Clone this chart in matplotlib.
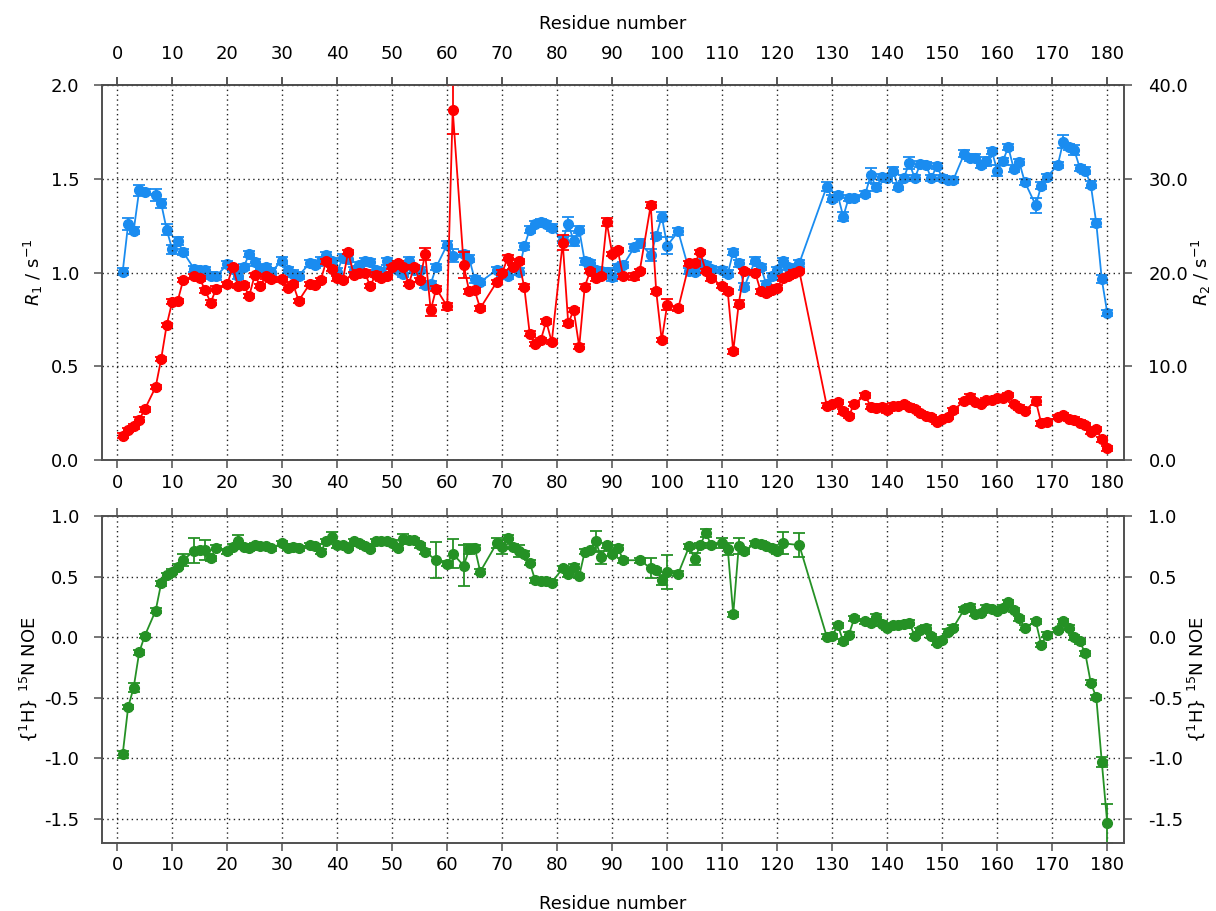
import numpy as np
import matplotlib
matplotlib.use("Agg")
import matplotlib.pyplot as plt
from matplotlib.ticker import FormatStrFormatter

plt.rcParams['font.family'] = ['DejaVu Sans']
plt.rcParams['axes.unicode_minus'] = False

# ---------------- data ----------------
r1_res = [1, 2, 3, 4, 5, 7, 8, 9, 10, 11, 12, 14, 15, 16, 17, 18, 20, 21, 22, 23, 24, 25, 26, 27, 28,
          30, 31, 32, 33, 35, 36, 37, 38, 39, 40, 41, 42, 43, 44, 45, 46, 47, 48, 49, 50, 51, 52, 53,
          54, 55, 56, 57, 58, 60, 61, 63, 64, 65, 66, 69, 70, 71, 72, 73, 74, 75, 76, 77, 78, 79, 81,
          82, 83, 84, 85, 86, 87, 88, 89, 90, 91, 92, 94, 95, 97, 98, 99, 100, 102, 104, 105, 106, 107,
          108, 110, 111, 112, 113, 114, 116, 117, 118, 119, 120, 121, 122, 123, 124,
          129, 130, 131, 132, 133, 134, 136, 137, 138, 139, 140, 141, 142, 143, 144, 145, 146, 147,
          148, 149, 150, 151, 152, 154, 155, 156, 157, 158, 159, 160, 161, 162, 163, 164, 165, 167,
          168, 169, 171, 172, 173, 174, 175, 176, 177, 178, 179, 180]
r1_val = [0.13, 0.16, 0.18, 0.215, 0.27, 0.39, 0.54, 0.72, 0.845, 0.85, 0.96, 0.98, 0.97, 0.905, 0.84,
          0.915, 0.937, 1.03, 0.93, 0.935, 0.875, 0.987, 0.93, 0.98, 0.965,
          0.965, 0.92, 0.937, 0.85, 0.94, 0.935, 0.96, 1.06, 1.02, 0.97, 0.96, 1.11, 0.99, 1.0, 1.0,
          0.93, 0.99, 0.97, 0.98, 1.03, 1.05, 1.03, 0.94,
          1.03, 0.96, 1.1, 0.80, 0.915, 0.82, 1.87, 1.04, 0.90, 0.905, 0.81, 0.95, 1.0, 1.08, 1.03,
          1.06, 0.925, 0.675, 0.62, 0.64, 0.74, 0.63, 1.16,
          0.73, 0.80, 0.605, 0.925, 1.01, 0.97, 0.98, 1.27, 1.10, 1.12, 0.98, 0.98, 1.01, 1.36, 0.90,
          0.64, 0.83, 0.81, 1.05, 1.05, 1.11, 1.01,
          0.97, 0.93, 0.90, 0.58, 0.835, 1.01, 1.0, 0.90, 0.89, 0.91, 0.92, 0.97, 0.98, 1.0, 1.01,
          0.29, 0.30, 0.31, 0.26, 0.235, 0.30, 0.345, 0.285, 0.28, 0.285, 0.265, 0.29, 0.29, 0.30,
          0.285, 0.27, 0.25, 0.235,
          0.23, 0.205, 0.22, 0.23, 0.265, 0.316, 0.338, 0.31, 0.30, 0.32, 0.32, 0.33, 0.33, 0.347,
          0.30, 0.28, 0.263, 0.316,
          0.196, 0.205, 0.23, 0.24, 0.22, 0.215, 0.20, 0.187, 0.15, 0.165, 0.11, 0.062]
r1_err_default = 0.012
r1_err_big = {56: 0.03, 57: 0.03, 60: 0.02, 61: 0.13, 63: 0.07, 81: 0.04, 89: 0.02, 94: 0.02,
              97: 0.015, 100: 0.03, 113: 0.02, 167: 0.02}

r2_res = list(r1_res)
r2_val = [20.1, 25.2, 24.5, 28.8, 28.6, 28.3, 27.4, 24.6, 22.5, 23.4, 22.2, 20.4, 20.3, 20.3, 19.7,
          19.6, 20.9, 20.4, 19.7, 20.6, 22.0, 21.1, 20.4, 20.6, 20.1,
          21.3, 20.3, 19.9, 19.7, 21.0, 20.8, 21.3, 21.9, 21.2, 20.1, 21.6, 21.5, 20.3, 20.8, 21.2,
          21.1, 20.3, 20.1, 21.2, 20.8, 20.3, 19.9, 21.3,
          20.3, 20.3, 18.7, 18.8, 20.6, 23.0, 21.8, 22.0, 21.5, 19.3, 19.0, 20.3, 19.9, 19.7, 20.6,
          20.1, 22.8, 24.6, 25.2, 25.4, 25.2, 24.8, 23.5,
          25.2, 23.4, 24.6, 21.2, 21.0, 20.3, 20.2, 20.1, 19.5, 20.6, 20.8, 22.7, 23.2, 21.9, 23.9,
          26.0, 22.9, 24.4, 20.2, 20.1, 21.0, 20.8,
          20.4, 20.3, 19.9, 22.2, 21.0, 18.5, 21.3, 20.6, 18.8, 19.6, 20.3, 21.2, 20.6, 20.4, 21.0,
          29.2, 27.9, 28.3, 26.0, 28.0, 28.0, 28.4, 30.4, 29.1, 30.2, 30.1, 30.9, 29.2, 30.1, 31.7,
          30.1, 31.6, 31.5,
          30.1, 31.4, 30.1, 29.9, 29.9, 32.7, 32.3, 32.3, 31.5, 31.9, 33.0, 30.9, 31.9, 33.4, 31.1,
          31.8, 29.7, 27.2,
          29.3, 30.2, 31.5, 34.0, 33.4, 33.1, 31.2, 30.9, 29.4, 25.3, 19.3, 15.7]
r2_err_default = 0.35
r2_err_big = {2: 0.6, 4: 0.6, 7: 0.6, 8: 0.45, 9: 0.55, 10: 0.45, 11: 0.4, 61: 0.7, 82: 0.7,
              83: 0.5, 97: 0.6, 99: 0.5, 100: 0.9, 129: 0.45, 132: 0.45, 137: 0.8, 144: 0.65,
              158: 0.5, 160: 0.55, 167: 0.8, 172: 0.7, 174: 0.5, 178: 0.45, 179: 0.45}

noe_res = [1, 2, 3, 4, 5, 7, 8, 9, 10, 11, 12, 14, 15, 16, 17, 18, 20, 21, 22, 23, 24, 25, 26, 27, 28,
           30, 31, 32, 33, 35, 36, 37, 38, 39, 40, 41, 42, 43, 44, 45, 46, 47, 48, 49, 50, 51, 52, 53,
           54, 55, 56, 58, 60, 61, 63, 64, 65, 66, 69, 70, 71, 72, 73, 74, 75, 76, 77, 78, 79, 81,
           82, 83, 84, 85, 86, 87, 88, 89, 90, 91, 92, 95, 97, 98, 99, 100, 102, 104, 105, 106, 107,
           108, 110, 111, 112, 113, 114, 116, 117, 118, 119, 120, 121, 124,
           129, 130, 131, 132, 133, 134, 136, 137, 138, 139, 140, 141, 142, 143, 144, 145, 146, 147,
           148, 149, 150, 151, 152, 154, 155, 156, 157, 158, 159, 160, 161, 162, 163, 164, 165, 167,
           168, 169, 171, 172, 173, 174, 175, 176, 177, 178, 179, 180]
noe_val = [-0.965, -0.575, -0.415, -0.125, 0.01, 0.22, 0.445, 0.51, 0.54, 0.58, 0.635, 0.715, 0.72,
           0.72, 0.65, 0.74, 0.71, 0.745, 0.79, 0.745, 0.735, 0.76, 0.75, 0.75, 0.735,
           0.775, 0.74, 0.745, 0.735, 0.76, 0.75, 0.705, 0.79, 0.83, 0.76, 0.76, 0.74, 0.79, 0.775,
           0.75, 0.73, 0.79, 0.79, 0.79, 0.78, 0.74, 0.81, 0.80,
           0.80, 0.76, 0.705, 0.635, 0.605, 0.69, 0.59, 0.725, 0.74, 0.54, 0.775, 0.745, 0.82, 0.745,
           0.71, 0.69, 0.615, 0.47, 0.46, 0.46, 0.45, 0.57,
           0.52, 0.58, 0.505, 0.705, 0.72, 0.79, 0.66, 0.76, 0.69, 0.74, 0.635, 0.635, 0.57, 0.555,
           0.47, 0.54, 0.525, 0.75, 0.645, 0.76, 0.86,
           0.76, 0.775, 0.73, 0.19, 0.75, 0.71, 0.775, 0.77, 0.75, 0.74, 0.71, 0.775, 0.76,
           0.005, 0.01, 0.10, -0.035, 0.02, 0.155, 0.13, 0.115, 0.17, 0.11, 0.08, 0.10, 0.10, 0.11,
           0.12, 0.01, 0.06, 0.08,
           0.01, -0.045, -0.02, 0.045, 0.08, 0.23, 0.25, 0.195, 0.20, 0.245, 0.23, 0.22, 0.245, 0.29,
           0.225, 0.155, 0.08, 0.13,
           -0.064, 0.02, 0.06, 0.13, 0.08, 0.0, -0.035, -0.133, -0.375, -0.496, -1.027, -1.536]
noe_err_default = 0.02
noe_err_big = {1: 0.03, 3: 0.04, 12: 0.05, 14: 0.1, 16: 0.08, 22: 0.055, 39: 0.04, 52: 0.04,
               58: 0.15, 61: 0.12, 63: 0.17, 64: 0.04, 69: 0.04, 70: 0.055, 73: 0.05, 87: 0.09,
               88: 0.055, 97: 0.08, 99: 0.04, 100: 0.14, 105: 0.05, 107: 0.035, 110: 0.04,
               111: 0.05, 113: 0.065, 121: 0.09, 124: 0.1, 179: 0.04, 180: 0.16}

xticks = list(range(0, 181, 10))
r1_ticks = [0.0, 0.5, 1.0, 1.5, 2.0]
r2_ticks = [0, 10, 20, 30, 40]
noe_ticks = [-1.5, -1.0, -0.5, 0.0, 0.5, 1.0]

# ---------------- style ----------------
RED = '#ff0000'
BLUE = '#1a8cf0'
GREEN = '#259125'
FRAME = '#505050'
FS = 13

def errs(res, default, big):
    return [big.get(r, default) for r in res]

W, H = 1216, 911
fig = plt.figure(figsize=(W / 100, H / 100), dpi=100)

left = 101.5 / W
width = (1123.5 - 101.5) / W
ax_top = fig.add_axes([left, 1 - 460 / H, width, (460 - 85.4) / H])
ax_bot = fig.add_axes([left, 1 - 843.3 / H, width, (843.3 - 516) / H])

xlim = (-2.85, 182.95)

def style(ax):
    for s in ax.spines.values():
        s.set_color(FRAME)
        s.set_linewidth(1.2)
    ax.tick_params(direction='out', length=6, width=1.1, color=FRAME,
                   labelsize=FS, labelcolor='black')

ebkw = dict(marker='o', ms=7, capsize=4, lw=1.3, elinewidth=1.3, capthick=1.3)
gridkw = dict(linestyle=(0, (1, 2.5)), color='#222222', lw=1.0)

# ---- top panel ----
ax_r2 = ax_top.twinx()
ax_r2.errorbar(r2_res, r2_val, yerr=errs(r2_res, r2_err_default, r2_err_big),
               color=BLUE, **ebkw)
ax_r2.set_ylim(0, 40)
ax_r2.set_yticks(r2_ticks)
ax_r2.yaxis.set_major_formatter(FormatStrFormatter('%.1f'))

ax_top.set_zorder(ax_r2.get_zorder() + 1)
ax_top.patch.set_visible(False)
ax_top.errorbar(r1_res, r1_val, yerr=errs(r1_res, r1_err_default, r1_err_big),
                color=RED, **ebkw)
ax_top.set_xlim(*xlim)
ax_top.set_ylim(0, 2.0)
ax_top.set_xticks(xticks)
ax_top.set_yticks(r1_ticks)
ax_top.yaxis.set_major_formatter(FormatStrFormatter('%.1f'))
ax_top.grid(True, **gridkw)
ax_top.set_axisbelow(True)
ax_top.tick_params(top=True, labeltop=False, bottom=True, labelbottom=True)

sec = ax_top.secondary_xaxis('top')
sec.set_xticks(xticks)
sec.set_xlabel('Residue number', fontsize=FS, labelpad=12)

for a in (ax_top, ax_r2, sec):
    style(a)
sec.tick_params(axis='x', pad=10)
ax_top.tick_params(axis='x', pad=4)
ax_top.tick_params(axis='y', pad=10)
ax_r2.tick_params(axis='y', pad=12)
ax_top.set_ylabel(r'$R_1$ / s$^{-1}$', fontsize=FS, labelpad=4)
ax_r2.set_ylabel(r'$R_2$ / s$^{-1}$', fontsize=FS, labelpad=1)

# ---- bottom panel ----
ax_noe_r = ax_bot.twinx()
ax_bot.errorbar(noe_res, noe_val, yerr=errs(noe_res, noe_err_default, noe_err_big),
                color=GREEN, **ebkw)
ax_bot.set_xlim(*xlim)
ax_bot.set_ylim(-1.7, 1.0)
ax_bot.set_xticks(xticks)
ax_bot.set_yticks(noe_ticks)
ax_bot.yaxis.set_major_formatter(FormatStrFormatter('%.1f'))
ax_bot.grid(True, **gridkw)
ax_bot.set_axisbelow(True)
ax_bot.tick_params(top=True, labeltop=False)
ax_noe_r.set_ylim(-1.7, 1.0)
ax_noe_r.set_yticks(noe_ticks)
ax_noe_r.yaxis.set_major_formatter(FormatStrFormatter('%.1f'))
for a in (ax_bot, ax_noe_r):
    style(a)
ax_bot.tick_params(axis='x', pad=3)
ax_bot.tick_params(axis='y', pad=10)
ax_noe_r.tick_params(axis='y', pad=12)
ax_bot.set_xlabel('Residue number', fontsize=FS, labelpad=15)
ax_bot.set_ylabel(r'{$^{1}$H} $^{15}$N NOE', fontsize=FS, labelpad=4)
ax_noe_r.set_ylabel(r'{$^{1}$H} $^{15}$N NOE', fontsize=FS, labelpad=1)

fig.savefig('out.png', dpi=100)
